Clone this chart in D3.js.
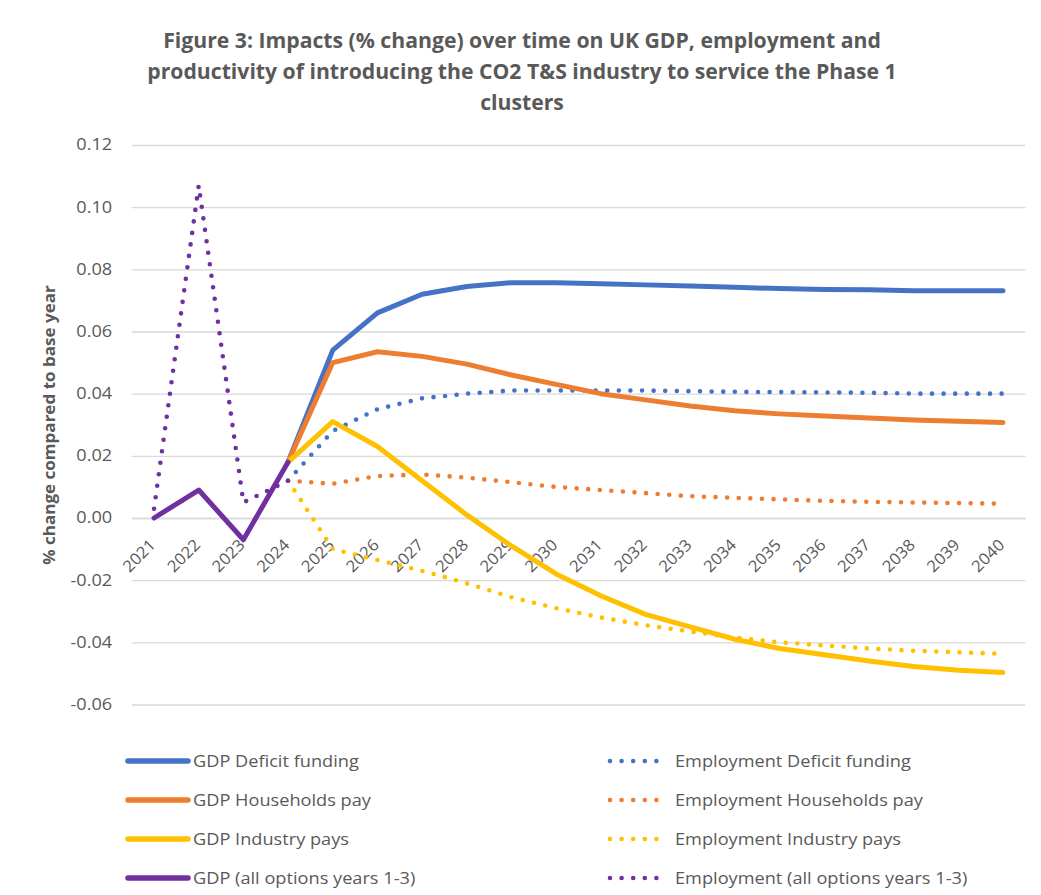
<!DOCTYPE html>
<html>
<head>
<meta charset="utf-8">
<script src="https://cdn.jsdelivr.net/npm/d3@7"></script>
<style>
  html, body { margin: 0; padding: 0; background: #fff; }
  svg { display: block; }
</style>
</head>
<body>
<svg id="chart" width="1041" height="895"></svg>
<script>
// Years on the category axis
const years = d3.range(2021, 2041).map(String);

// GDP (% change) under each funding option, from 2024 onwards
const gdpDeficit    = [null, null, null, 0.018, 0.054, 0.066, 0.072, 0.0745, 0.0757, 0.0757, 0.0754, 0.075, 0.0746, 0.0742, 0.0738, 0.0735, 0.0734, 0.0731, 0.0731, 0.0731];
const gdpHouseholds = [null, null, null, 0.018, 0.050, 0.0535, 0.052, 0.0495, 0.046, 0.043, 0.040, 0.038, 0.036, 0.0345, 0.0335, 0.0328, 0.0322, 0.0315, 0.0311, 0.0307];
const gdpIndustry   = [null, null, null, 0.018, 0.031, 0.023, 0.012, 0.001, -0.009, -0.018, -0.025, -0.031, -0.035, -0.039, -0.042, -0.044, -0.046, -0.0478, -0.049, -0.0497];
const gdpAll        = [0.000, 0.009, -0.007, 0.018, null, null, null, null, null, null, null, null, null, null, null, null, null, null, null, null];

// Employment (% change) under each funding option
const empDeficit    = [null, null, null, 0.012, 0.028, 0.035, 0.0385, 0.040, 0.041, 0.041, 0.041, 0.041, 0.0408, 0.0406, 0.0405, 0.0404, 0.0403, 0.040, 0.040, 0.040];
const empHouseholds = [null, null, null, 0.012, 0.011, 0.0135, 0.014, 0.013, 0.0115, 0.010, 0.009, 0.008, 0.007, 0.0065, 0.006, 0.0055, 0.0052, 0.005, 0.0048, 0.0046];
const empIndustry   = [null, null, null, 0.012, -0.010, -0.0135, -0.017, -0.021, -0.0255, -0.029, -0.032, -0.0345, -0.0365, -0.0385, -0.040, -0.041, -0.042, -0.0427, -0.0432, -0.0437];
const empAll        = [0.003, 0.107, 0.005, 0.012, null, null, null, null, null, null, null, null, null, null, null, null, null, null, null, null];

// Y axis ticks
const yTicks = [-0.06, -0.04, -0.02, 0.00, 0.02, 0.04, 0.06, 0.08, 0.10, 0.12];

const titleLines = [
  "Figure 3: Impacts (% change) over time on UK GDP, employment and",
  "productivity of introducing the CO2 T&S industry to service the Phase 1",
  "clusters"
];

// Series in legend order (row by row, two columns)
const series = [
  { name: "GDP Deficit funding",               values: gdpDeficit,    color: "#4472C4", dotted: false },
  { name: "Employment Deficit funding",        values: empDeficit,    color: "#4472C4", dotted: true },
  { name: "GDP Households pay",                values: gdpHouseholds, color: "#ED7D31", dotted: false },
  { name: "Employment Households pay",         values: empHouseholds, color: "#ED7D31", dotted: true },
  { name: "GDP Industry pays",                 values: gdpIndustry,   color: "#FFC000", dotted: false },
  { name: "Employment Industry pays",          values: empIndustry,   color: "#FFC000", dotted: true },
  { name: "GDP (all options years 1-3)",       values: gdpAll,        color: "#7030A0", dotted: false },
  { name: "Employment (all options years 1-3)",values: empAll,        color: "#7030A0", dotted: true }
];

const FONT = "'Open Sans', 'Noto Sans', sans-serif";
const TEXT = "#595959";
const DOTS = "0 11.6";

const svg = d3.select("#chart");

// Plot area
const plot = { left: 131.7, right: 1025.3, top: 145, bottom: 704.5 };

const x = d3.scaleBand().domain(years).range([plot.left, plot.right]).paddingInner(0).paddingOuter(0);
const xc = d => x(d) + x.bandwidth() / 2;
const y = d3.scaleLinear().domain([-0.06, 0.12]).range([plot.bottom, plot.top]);

// Title
svg.append("g").selectAll("text").data(titleLines).join("text")
  .attr("x", 522)
  .attr("y", (d, i) => 47.5 + i * 31)
  .attr("text-anchor", "middle")
  .attr("font-family", FONT)
  .attr("font-weight", "bold")
  .attr("font-size", 21.2)
  .attr("fill", TEXT)
  .text(d => d);

// Horizontal gridlines + y labels via axis
const fmt = v => d3.format(".2f")(v).replace("\u2212", "-");
const yAxis = d3.axisLeft(y)
  .tickValues(yTicks)
  .tickFormat(fmt)
  .tickSize(-(plot.right - plot.left))
  .tickPadding(0);

const gy = svg.append("g")
  .attr("transform", `translate(${plot.left},0)`)
  .call(yAxis);
gy.select(".domain").remove();
gy.selectAll(".tick line").attr("stroke", "#d9d9d9").attr("stroke-width", 1.3);
gy.selectAll(".tick text")
  .attr("x", null)
  .attr("transform", "translate(-19.5,0) scale(1.17,1)")
  .attr("font-family", FONT)
  .attr("font-size", 15.5)
  .attr("fill", TEXT);

// Y axis title
svg.append("text")
  .attr("transform", `translate(55,425) rotate(-90) scale(1.1,1)`)
  .attr("text-anchor", "middle")
  .attr("font-family", FONT)
  .attr("font-weight", "bold")
  .attr("font-size", 15.5)
  .attr("fill", TEXT)
  .text("% change compared to base year");

// X axis crossing at zero, with rotated year labels
const xAxis = d3.axisBottom(x).tickSize(0).tickPadding(0);
const gx = svg.append("g")
  .attr("transform", `translate(0,${y(0)})`)
  .call(xAxis);
gx.select(".domain").attr("stroke", "#d9d9d9").attr("stroke-width", 1.3);
gx.selectAll(".tick text")
  .attr("font-family", FONT)
  .attr("font-size", 16)
  .attr("fill", TEXT)
  .attr("text-anchor", "end")
  .attr("y", 0)
  .attr("dy", 0)
  .attr("transform", "translate(2.5,28) rotate(-45) scale(1.05,1)");

// Lines
const line = d3.line()
  .defined(d => d[1] !== null)
  .x(d => xc(d[0]))
  .y(d => y(d[1]));

const gLines = svg.append("g");
series.forEach(s => {
  const pts = years.map((yr, i) => [yr, s.values[i]]);
  gLines.append("path")
    .datum(pts)
    .attr("d", line)
    .attr("fill", "none")
    .attr("stroke", s.color)
    .attr("stroke-width", s.dotted ? 4.6 : 5)
    .attr("stroke-linecap", "round")
    .attr("stroke-linejoin", "round")
    .attr("stroke-dasharray", s.dotted ? DOTS : null);
});

// Legend
const legendRows = [761, 800, 839, 878];
const legendCols = [
  { x0: 128, x1: 188, tx: 193 },
  { x0: 610, x1: 658, tx: 675 }
];
const gLeg = svg.append("g");
series.forEach((s, i) => {
  const col = legendCols[i % 2];
  const ry = legendRows[Math.floor(i / 2)];
  gLeg.append("line")
    .attr("x1", col.x0).attr("x2", col.x1)
    .attr("y1", ry).attr("y2", ry)
    .attr("stroke", s.color)
    .attr("stroke-width", s.dotted ? 4.6 : 5.5)
    .attr("stroke-linecap", "round")
    .attr("stroke-dasharray", s.dotted ? DOTS : null);
  gLeg.append("text")
    .attr("transform", `translate(${col.tx},${ry}) scale(1.07,1)`)
    .attr("dy", "0.35em")
    .attr("font-family", FONT)
    .attr("font-size", 17)
    .attr("fill", TEXT)
    .text(s.name);
});
</script>
</body>
</html>
